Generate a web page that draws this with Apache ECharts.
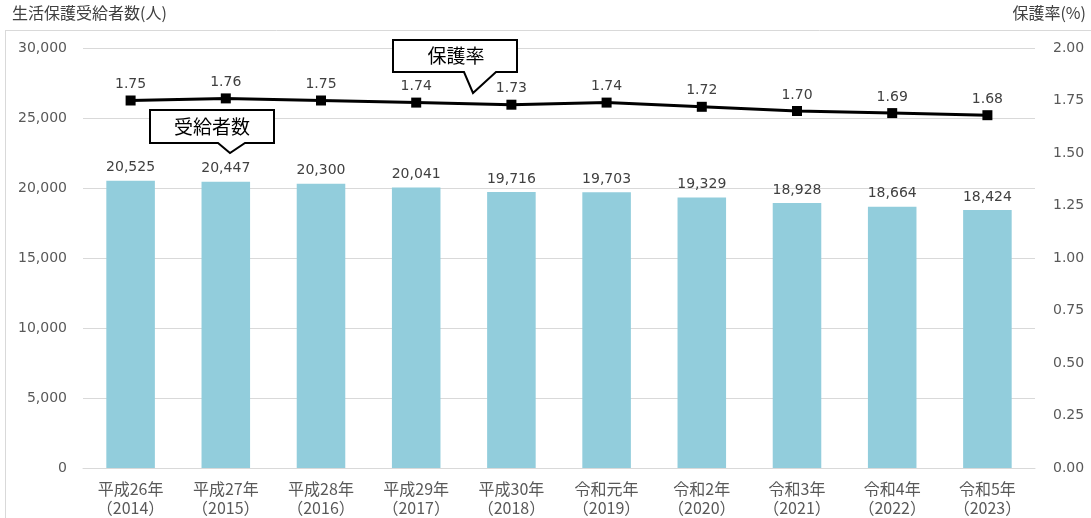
<!DOCTYPE html>
<html><head><meta charset="utf-8">
<script src="https://cdn.jsdelivr.net/npm/echarts@6/dist/echarts.min.js"></script>
<style>html,body{margin:0;padding:0;background:#fff;}#c{width:1091px;height:518px;}</style>
</head><body><div id="c"></div>
<script>
const categories = ['平成26年\n（2014）','平成27年\n（2015）','平成28年\n（2016）','平成29年\n（2017）','平成30年\n（2018）','令和元年\n（2019）','令和2年\n（2020）','令和3年\n（2021）','令和4年\n（2022）','令和5年\n（2023）'];
const recipients = [20525, 20447, 20300, 20041, 19716, 19703, 19329, 18928, 18664, 18424];
const rates = [1.75, 1.76, 1.75, 1.74, 1.73, 1.74, 1.72, 1.70, 1.69, 1.68];
const leftTitle = '生活保護受給者数(人)';
const rightTitle = '保護率(%)';

const FONT = '"DejaVu Sans","Noto Sans CJK JP",sans-serif';
const JFONT = '"Noto Sans CJK JP",sans-serif';
const chart = echarts.init(document.getElementById('c'));
chart.setOption({
  animation: false,
  textStyle: {fontFamily: FONT},
  grid: {left: 83, right: 56, top: 48, bottom: 50},
  xAxis: {
    type: 'category', data: categories,
    axisLine: {lineStyle: {color: '#d9d9d9', width: 1}},
    axisTick: {show: false},
    axisLabel: {color: '#595959', fontSize: 16, lineHeight: 19, margin: 11, fontFamily: JFONT}
  },
  yAxis: [
    {type: 'value', min: 0, max: 30000, interval: 5000,
     axisLine: {show: false}, axisTick: {show: false},
     splitLine: {lineStyle: {color: '#d9d9d9'}},
     axisLabel: {color: '#595959', fontSize: 14, margin: 16, fontFamily: FONT,
       formatter: v => v.toLocaleString('en-US')}},
    {type: 'value', min: 0, max: 2, interval: 0.25,
     axisLine: {show: false}, axisTick: {show: false}, splitLine: {show: false},
     axisLabel: {color: '#595959', fontSize: 14, margin: 18, fontFamily: FONT,
       formatter: v => v.toFixed(2)}}
  ],
  series: [
    {type: 'bar', data: recipients, yAxisIndex: 0, barWidth: '51%',
     itemStyle: {color: '#92cddc'},
     label: {show: true, position: 'top', distance: 6, color: '#404040', fontSize: 14,
       fontFamily: FONT, formatter: p => p.value.toLocaleString('en-US')}},
    {type: 'line', data: rates, yAxisIndex: 1, symbol: 'rect', symbolSize: 10,
     lineStyle: {color: '#000', width: 3}, itemStyle: {color: '#000'},
     label: {show: true, position: 'top', distance: 4, color: '#404040', fontSize: 14,
       fontFamily: FONT, formatter: p => p.value.toFixed(2)}}
  ],
  graphic: [
    {type: 'line', shape: {x1: 5, y1: 30.5, x2: 1091, y2: 30.5}, style: {stroke: '#d9d9d9', lineWidth: 1}},
    {type: 'line', shape: {x1: 5.5, y1: 30, x2: 5.5, y2: 518}, style: {stroke: '#d9d9d9', lineWidth: 1}},
    {type: 'text', left: 12, top: 5, style: {text: leftTitle, fill: '#404040', font: '16px ' + JFONT}},
    {type: 'text', right: 5, top: 5, style: {text: rightTitle, fill: '#404040', font: '16px ' + JFONT}},
    {type: 'polygon', shape: {points: [[393,40],[517,40],[517,72],[496,72],[473,93],[464,72],[393,72]]},
     style: {fill: '#fff', stroke: '#000', lineWidth: 2}, z: 100},
    {type: 'text', x: 456, y: 56, style: {text: '保護率', fill: '#000', font: '19px ' + JFONT, align: 'center', verticalAlign: 'middle'}, z: 101},
    {type: 'polygon', shape: {points: [[150,110],[274,110],[274,143],[245,143],[230,153],[218,143],[150,143]]},
     style: {fill: '#fff', stroke: '#000', lineWidth: 2}, z: 100},
    {type: 'text', x: 212, y: 127, style: {text: '受給者数', fill: '#000', font: '19px ' + JFONT, align: 'center', verticalAlign: 'middle'}, z: 101}
  ]
});
</script></body></html>
